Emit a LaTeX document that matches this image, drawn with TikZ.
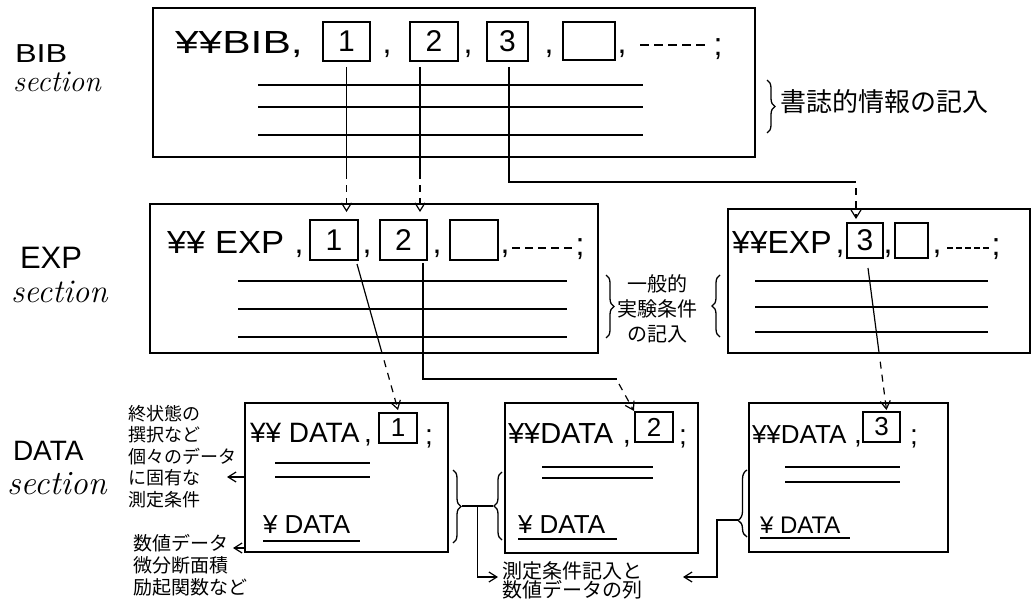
\documentclass[tikz,border=0pt]{standalone}
\usepackage{fontspec}
\usepackage{graphicx}
\setsansfont{Liberation Sans}
\newfontfamily\jp{Noto Sans CJK JP}
\usetikzlibrary{arrows.meta,calc,decorations.pathreplacing}
\newcommand{\fsz}[2]{\fontsize{#1}{#2}\selectfont}
\tikzset{
  frame/.style={draw, line width=1.5pt, inner sep=0pt, outer sep=0pt, anchor=north west},
  numbox/.style={draw, line width=1.4pt, inner sep=0pt, outer sep=0pt, font=\sffamily\fsz{30}{30}},
  dnumbox/.style={numbox, font=\sffamily\fsz{26}{26}},
  txt/.style={inner sep=0pt, outer sep=0pt, anchor=base west},
  punct/.style={inner sep=0pt, outer sep=0pt, anchor=base},
  rule/.style={line width=1.3pt},
  conn/.style={line width=1.2pt},
  dashconn/.style={line width=1.2pt, dash pattern=on 7pt off 6pt},
  tip/.style={-{Straight Barb[length=8pt,width=10pt]}},
  brc/.style={decorate, decoration={brace, amplitude=8pt}, line width=1.3pt},
  jptext/.style={inner sep=0pt, outer sep=0pt},
}
\begin{document}
\begin{tikzpicture}[x=1pt,y=-1pt]
\useasboundingbox (0,0) rectangle (1033,607);

% ---------- left labels ----------
\node[txt, font=\sffamily\fsz{26}{26}] (lbib) at (15,63) {\scalebox{1.25}[1]{BIB}};
\node[txt, font=\rmfamily\itshape\fsz{30}{30}] (lbibs) at (13,92) {section};
\node[txt, font=\sffamily\fsz{31}{31}] (lexp) at (20,268) {EXP};
\node[txt, font=\rmfamily\itshape\fsz{33}{33}] (lexps) at (11,302) {section};
\node[txt, font=\sffamily\fsz{28}{28}] (ldat) at (13,460) {DATA};
\node[txt, font=\rmfamily\itshape\fsz{34}{34}] (ldats) at (7,494) {section};

% ---------- BIB section ----------
\node[frame, minimum width=602pt, minimum height=149pt] (bibbox) at (153,8) {};
\node[txt, font=\sffamily\fsz{32}{32}] (bibt) at (175,54) {\scalebox{1.33}[1]{¥¥BIB,}};
\node[numbox, minimum width=47pt, minimum height=39pt] (b1) at (346.5,41.5) {1};
\node[punct, font=\sffamily\fsz{32}{32}] (bc1) at (387,54) {,};
\node[numbox, minimum width=48pt, minimum height=39pt] (b2) at (434,41.5) {2};
\node[punct, font=\sffamily\fsz{32}{32}] (bc2) at (468,54) {,};
\node[numbox, minimum width=41pt, minimum height=39pt] (b3) at (507.5,41.5) {3};
\node[punct, font=\sffamily\fsz{32}{32}] (bc3) at (549,54) {,};
\node[numbox, minimum width=52pt, minimum height=38pt] (b4) at (589,41) {};
\node[punct, font=\sffamily\fsz{32}{32}] (bc4) at (622,54) {,};
\draw[line width=1.3pt, dash pattern=on 9pt off 5pt] (640,45) -- (707,45);
\node[punct, font=\sffamily\fsz{32}{32}] (bsc) at (718,56) {;};
\draw[rule] (258,85) -- (643,85);
\draw[rule] (258,107) -- (643,107);
\draw[rule] (258,135) -- (643,135);
\draw[brc] (767,80) -- (767,133);
\node[jptext, anchor=west, font=\jp\fsz{26}{26}] (bibnote) at (780,102) {書誌的情報の記入};

% ---------- EXP section (1) ----------
\node[frame, minimum width=448pt, minimum height=149pt] (expbox1) at (150,204) {};
\node[txt, font=\sffamily\fsz{32}{32}] (exp1t) at (167,253) {\scalebox{1.08}[1]{¥¥ EXP}};
\node[punct, font=\sffamily\fsz{32}{32}] (ec0) at (299,253) {,};
\node[numbox, minimum width=48pt, minimum height=40pt] (e1) at (334,240) {1};
\node[punct, font=\sffamily\fsz{32}{32}] (ec1) at (367,253) {,};
\node[numbox, minimum width=47pt, minimum height=40pt] (e2) at (403.5,240) {2};
\node[punct, font=\sffamily\fsz{32}{32}] (ec2) at (437,253) {,};
\node[numbox, minimum width=48pt, minimum height=40pt] (e4) at (474,240) {};
\node[punct, font=\sffamily\fsz{32}{32}] (ec3) at (505,253) {,};
\draw[line width=1.3pt, dash pattern=on 8pt off 5pt] (512,248) -- (572,248);
\node[punct, font=\sffamily\fsz{32}{32}] (esc1) at (580,255) {;};
\draw[rule] (238,281) -- (567,281);
\draw[rule] (238,309) -- (567,309);
\draw[rule] (238,337) -- (567,337);

% middle note
\draw[brc] (606,275) -- (606,338);
\node[jptext, align=center, font=\jp\fsz{20}{25}] (expnote) at (657,309) {一般的\\実験条件\\の記入};
\draw[brc] (720,337) -- (720,275);

% ---------- EXP section (2) ----------
\node[frame, minimum width=302pt, minimum height=144pt] (expbox2) at (728,209) {};
\node[txt, font=\sffamily\fsz{32}{32}] (exp2t) at (732,253) {¥¥EXP};
\node[punct, font=\sffamily\fsz{32}{32}] (fc0) at (840,253) {,};
\node[numbox, minimum width=36pt, minimum height=35pt] (e3) at (865,240.5) {3};
\node[punct, font=\sffamily\fsz{32}{32}] (fc1) at (888,253) {,};
\node[numbox, minimum width=33pt, minimum height=35pt] (e5) at (911.5,240.5) {};
\node[punct, font=\sffamily\fsz{32}{32}] (fc2) at (937,253) {,};
\draw[line width=1.3pt, dash pattern=on 6pt off 3pt] (947,248) -- (990,248);
\node[punct, font=\sffamily\fsz{32}{32}] (fsc) at (996,255) {;};
\draw[rule] (755,281) -- (988,281);
\draw[rule] (755,307) -- (988,307);
\draw[rule] (755,332) -- (988,332);

% ---------- DATA section ----------
% box 1
\node[frame, minimum width=203pt, minimum height=149pt] (dbox1) at (245,403) {};
\node[txt, font=\sffamily\fsz{28}{28}] (d1t) at (250,442) {¥¥ DATA};
\node[punct, font=\sffamily\fsz{28}{28}] (dc1) at (368,442) {,};
\node[dnumbox, minimum width=38pt, minimum height=30pt] (d1) at (398,428) {1};
\node[punct, font=\sffamily\fsz{28}{28}] (dsc1) at (429,444) {;};
\draw[rule] (275,463) -- (370,463);
\draw[rule] (275,477) -- (370,477);
\node[txt, font=\sffamily\fsz{26}{26}] (d1u) at (263,533) {¥ DATA};
\draw[rule] (263,541) -- (360,541);

% box 2
\node[frame, minimum width=193pt, minimum height=150pt] (dbox2) at (505,403) {};
\node[txt, font=\sffamily\fsz{29}{29}] (d2t) at (508,443) {¥¥DATA};
\node[punct, font=\sffamily\fsz{29}{29}] (dc2) at (627,443) {,};
\node[dnumbox, minimum width=38pt, minimum height=30pt] (d2) at (654,427) {2};
\node[punct, font=\sffamily\fsz{28}{28}] (dsc2) at (683,444) {;};
\draw[rule] (542,467) -- (653,467);
\draw[rule] (542,478) -- (653,478);
\node[txt, font=\sffamily\fsz{26}{26}] (d2u) at (518,533) {¥ DATA};
\draw[rule] (518,539) -- (617,539);

% box 3
\node[frame, minimum width=199pt, minimum height=149pt] (dbox3) at (749,403) {};
\node[txt, font=\sffamily\fsz{26}{26}] (d3t) at (752,443) {¥¥DATA};
\node[punct, font=\sffamily\fsz{28}{28}] (dc3) at (858,443) {,};
\node[dnumbox, minimum width=37pt, minimum height=30pt] (d3) at (881.5,427) {3};
\node[punct, font=\sffamily\fsz{28}{28}] (dsc3) at (914,444) {;};
\draw[rule] (785,467) -- (900,467);
\draw[rule] (785,482) -- (900,482);
\node[txt, font=\sffamily\fsz{24}{24}] (d3u) at (760,533) {¥ DATA};
\draw[rule] (760,538) -- (850,538);

% DATA notes
\node[jptext, anchor=north west, align=left, font=\jp\fsz{18}{21.5}] (ann1) at (128,405) {終状態の\\撰択など\\個々のデータ\\に固有な\\測定条件};
\node[jptext, anchor=north west, align=left, font=\jp\fsz{19}{22}] (ann2) at (133,534) {数値データ\\微分断面積\\励起関数など};
\node[jptext, anchor=north west, align=left, font=\jp\fsz{20}{19}] (ann3) at (502,562) {測定条件記入と\\数値データの列};

\draw[conn, tip] ($(dbox1.north west)+(0,74)$) -- ++(-18,0);
\draw[conn, tip] ($(dbox1.south west)+(0,-4)$) -- ++(-12,0);

% braces between data boxes
\draw[brc] (453,470) -- (453,543);
\draw[brc] (502,540) -- (502,472);
\draw[brc, decoration={brace, amplitude=9pt, aspect=0.25}] (747,537) -- (747,470);
\coordinate (br1) at (462,506);
\coordinate (br2) at (493,506);
\coordinate (br3) at (738,520);
\draw[conn] (br1) -- (br2);
\draw[conn, tip] ($(br1)!0.5!(br2)$) |- ($(ann3.north west)+(-4,15)$);
\draw[conn, tip] (br3) -- ++(-21,0) |- ($(ann3.north west)+(181,15)$);

% ---------- connectors BIB -> EXP ----------
\coordinate (c1a) at ($(b1.south)+(0,6)$);
\draw[conn] (c1a) -- ($(c1a |- bibbox.south)+(0,15)$) coordinate (c1b);
\draw[dashconn, tip] (c1b) -- ($(c1a |- e1.north)+(0,-8)$);

\coordinate (c2a) at ($(b2.south)+(-14,6)$);
\draw[conn] (c2a) -- ($(c2a |- bibbox.south)+(0,15)$) coordinate (c2b);
\draw[dashconn, tip] (c2b) -- ($(c2a |- e2.north)+(0,-8)$);

\coordinate (c3a) at ($(b3.south)+(1.5,6)$);
\draw[conn] (c3a) |- ($(e3.north)+(-9,-41)$) coordinate (c3b);
\draw[dashconn, tip] ($(c3b)+(0,6)$) -- ($(e3.north)+(-9,-4)$);

% ---------- connectors EXP -> DATA ----------
\coordinate (x1a) at ($(e1.south east)+(-1,4)$);
\coordinate (x1z) at ($(d1.north)+(0,-3)$);
\draw[conn] (x1a) -- ($(x1a)!0.61!(x1z)$) coordinate (x1m);
\draw[dashconn, tip] ($(x1a)!0.66!(x1z)$) -- (x1z);

\coordinate (x2a) at ($(e2.south east)+(-4,3)$);
\draw[conn] (x2a) |- ($(d2.north west)+(-18,-33)$) coordinate (x2m);
\draw[dashconn, tip] ($(x2m)+(2,5)$) -- ($(d2.north west)+(-1,-1)$);

\coordinate (x3a) at ($(e3.south)+(3,10)$);
\coordinate (x3z) at ($(d3.north)+(5,-2)$);
\draw[conn] (x3a) -- ($(x3a)!0.6!(x3z)$);
\draw[dashconn, tip] ($(x3a)!0.66!(x3z)$) -- (x3z);
\end{tikzpicture}
\end{document}
